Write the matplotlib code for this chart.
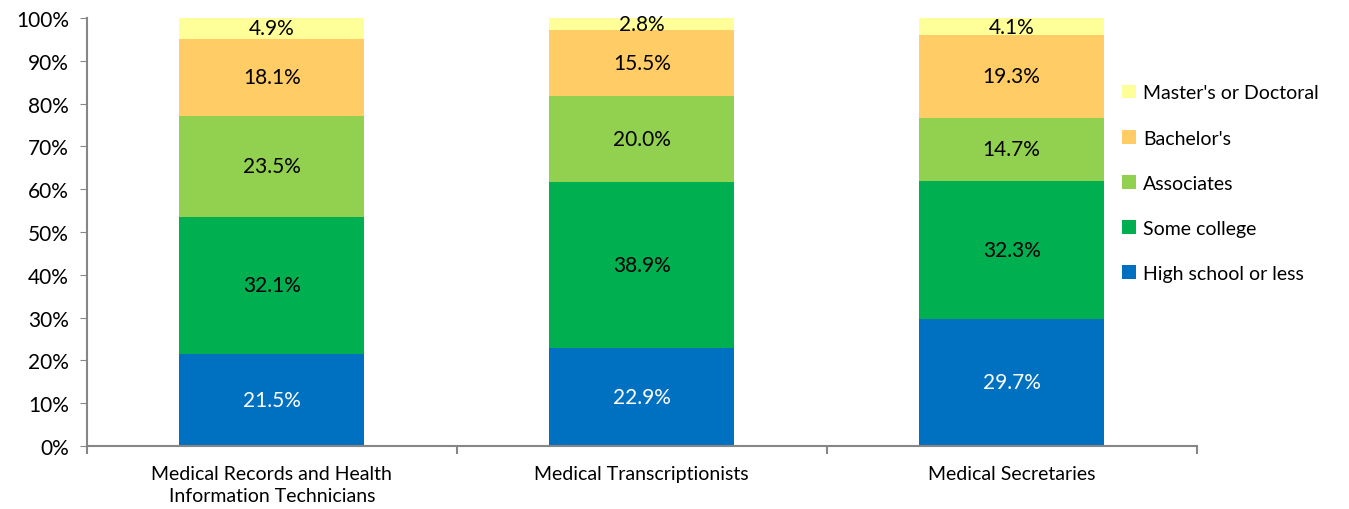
import matplotlib.pyplot as plt
import numpy as np

plt.rcParams['font.family'] = ['Lato', 'DejaVu Sans']

categories = ['Medical Records and Health\nInformation Technicians',
              'Medical Transcriptionists',
              'Medical Secretaries']
levels = ['High school or less', 'Some college', 'Associates',
          "Bachelor's", "Master's or Doctoral"]
high_school = [21.5, 22.9, 29.7]
some_college = [32.1, 38.9, 32.3]
associates = [23.5, 20.0, 14.7]
bachelors = [18.1, 15.5, 19.3]
masters = [4.9, 2.8, 4.1]

series = [high_school, some_college, associates, bachelors, masters]
colors = ['#0070C0', '#00B050', '#92D050', '#FFCC66', '#FFFF99']
text_colors = ['white', 'black', 'black', 'black', 'black']

fig = plt.figure(figsize=(13.49, 5.10), dpi=100)
ax = fig.add_axes([0.0645, 0.1235, 0.8225, 0.8392])

x = np.arange(len(categories))
bottom = np.zeros(len(categories))
handles = []
for vals, col, tc, name in zip(series, colors, text_colors, levels):
    vals = np.array(vals)
    b = ax.bar(x, vals, 0.5, bottom=bottom, color=col, label=name)
    handles.append(b)
    for xi, v, bt in zip(x, vals, bottom):
        yc = min(bt + v / 2, (bt + 100) / 2)
        ax.text(xi, yc, f'{v:.1f}%', ha='center', va='center',
                fontsize=15, color=tc)
    bottom += vals

ax.set_xlim(-0.5, 2.5)
ax.set_ylim(0, 100)
ax.set_yticks(np.arange(0, 101, 10))
ax.set_yticklabels([f'{t}%' for t in range(0, 101, 10)], fontsize=15)
ax.set_xticks(x)
ax.set_xticklabels(categories, fontsize=14, linespacing=1.35)
ax.tick_params(axis='x', length=0, pad=14)
ax.tick_params(axis='y', length=5, color='#868686', pad=8)
ax.set_xticks([-0.5, 0.5, 1.5, 2.5], minor=True)
ax.tick_params(axis='x', which='minor', length=6, color='#868686', width=1.5)

for s in ['top', 'right']:
    ax.spines[s].set_visible(False)
for s in ['left', 'bottom']:
    ax.spines[s].set_color('#868686')
    ax.spines[s].set_linewidth(1.5)

ax.legend(handles[::-1], levels[::-1], loc='upper left',
          bbox_to_anchor=(0.917, 0.886), frameon=False, fontsize=14,
          handlelength=0.7, handleheight=0.7, handletextpad=0.4,
          labelspacing=1.45)

fig.savefig('out.png', dpi=100)
